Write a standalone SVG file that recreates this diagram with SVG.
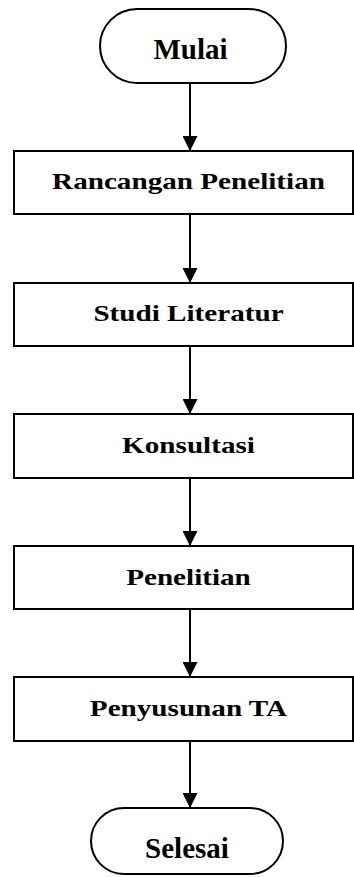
<svg xmlns="http://www.w3.org/2000/svg" width="354" height="877" viewBox="0 0 354 877">
<style>
.shape{fill:#fff;stroke:#000;stroke-width:2}
.t{font-family:"Liberation Serif","Times New Roman",serif;font-weight:bold;fill:#000;text-anchor:middle}
.term{font-size:29px}
.box{font-size:24px}
.conn{stroke:#000;stroke-width:2;fill:none;marker-end:url(#ah)}
</style>
<defs>
<marker id="ah" markerUnits="userSpaceOnUse" markerWidth="15" markerHeight="15" refX="15" refY="7.5" orient="auto">
<path d="M0,0 L15,7.5 L0,15 z" fill="#000"/>
</marker>
</defs>
<rect width="354" height="877" fill="#fff"/>
<g id="connectors">
<line class="conn" x1="190" y1="83" x2="190" y2="151"/>
<line class="conn" x1="190" y1="214" x2="190" y2="283"/>
<line class="conn" x1="190" y1="346" x2="190" y2="414"/>
<line class="conn" x1="190" y1="478" x2="190" y2="546"/>
<line class="conn" x1="190" y1="609" x2="190" y2="677"/>
<line class="conn" x1="190" y1="741" x2="190" y2="808"/>
</g>
<g id="mulai">
<rect class="shape" x="100" y="9" width="186" height="74" rx="37" ry="37"/>
<text class="t term" x="190.5" y="59">Mulai</text>
</g>
<g id="rancangan">
<rect class="shape" x="14" y="151" width="339" height="63"/>
<text class="t box" transform="translate(188.5,188.5) scale(1.215,1)">Rancangan Penelitian</text>
</g>
<g id="studi">
<rect class="shape" x="14" y="283" width="339" height="63"/>
<text class="t box" transform="translate(188.5,320.5) scale(1.215,1)">Studi Literatur</text>
</g>
<g id="konsultasi">
<rect class="shape" x="14" y="414" width="339" height="64"/>
<text class="t box" transform="translate(188.5,452.5) scale(1.215,1)">Konsultasi</text>
</g>
<g id="penelitian">
<rect class="shape" x="14" y="546" width="339" height="63"/>
<text class="t box" transform="translate(188.5,584.5) scale(1.215,1)">Penelitian</text>
</g>
<g id="penyusunan">
<rect class="shape" x="14" y="677" width="339" height="64"/>
<text class="t box" transform="translate(188.5,715.5) scale(1.215,1)">Penyusunan TA</text>
</g>
<g id="selesai">
<rect class="shape" x="91" y="808" width="192" height="66" rx="33" ry="33"/>
<text class="t term" x="187" y="858">Selesai</text>
</g>
</svg>
